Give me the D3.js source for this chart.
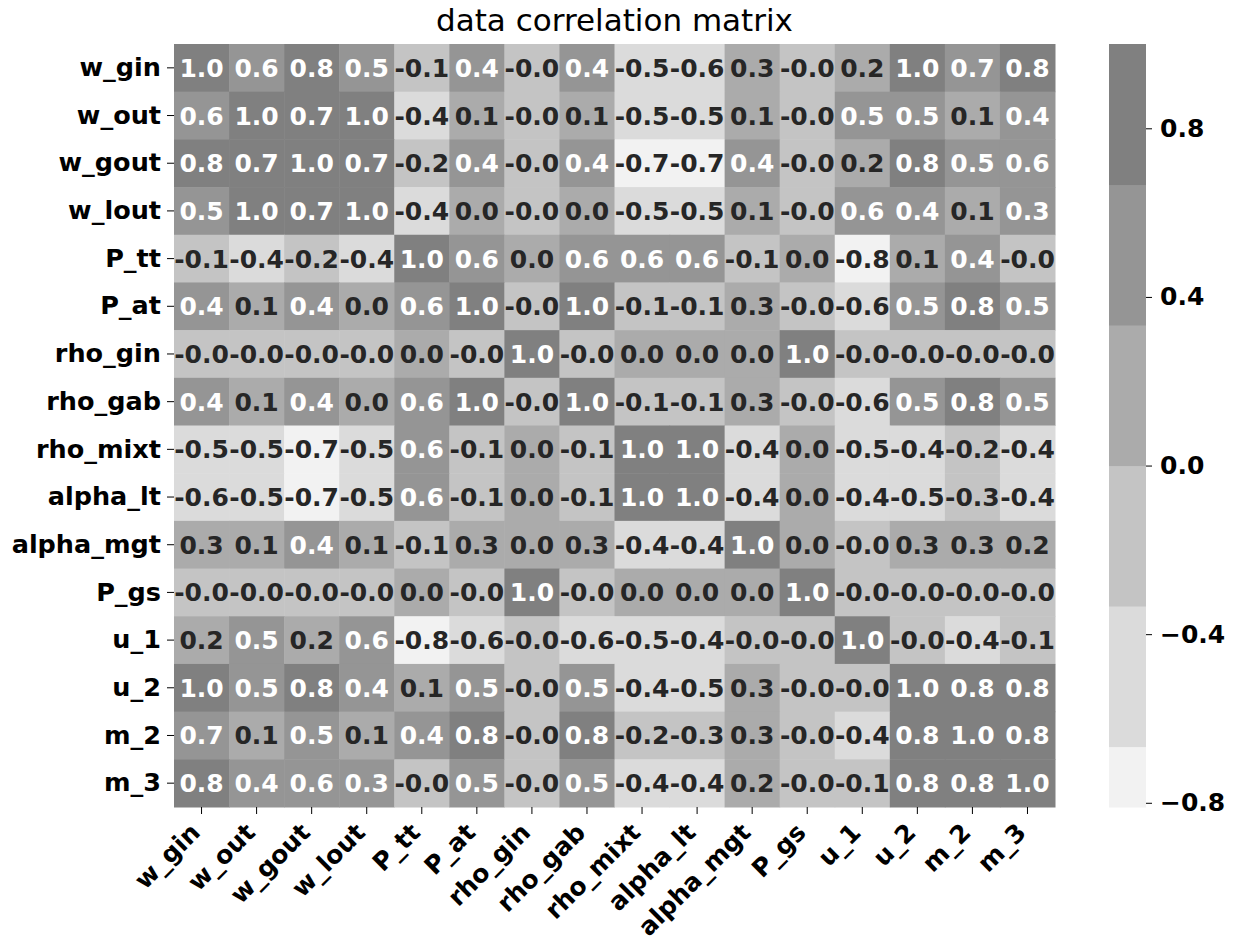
<!DOCTYPE html>
<html>
<head>
<meta charset="utf-8">
<script src="https://cdn.jsdelivr.net/npm/d3@7"></script>
<style>
  body { margin: 0; background: #fff; }
  text { font-family: 'DejaVu Sans', sans-serif; }
</style>
</head>
<body>
<script>
const labels = ['w_gin', 'w_out', 'w_gout', 'w_lout', 'P_tt', 'P_at', 'rho_gin', 'rho_gab',
  'rho_mixt', 'alpha_lt', 'alpha_mgt', 'P_gs', 'u_1', 'u_2', 'm_2', 'm_3']

// correlation rows, same order as labels (-0.01 shows as -0.0, 0.01 as 0.0)
const corr = [
  [1.0, 0.6, 0.8, 0.5, -0.1, 0.4, -0.01, 0.4, -0.5, -0.6, 0.3, -0.01, 0.2, 1.0, 0.66, 0.8],
  [0.6, 1.0, 0.7, 1.0, -0.4, 0.1, -0.01, 0.1, -0.5, -0.5, 0.1, -0.01, 0.5, 0.5, 0.1, 0.4],
  [0.8, 0.7, 1.0, 0.7, -0.2, 0.4, -0.01, 0.4, -0.7, -0.7, 0.4, -0.01, 0.2, 0.8, 0.5, 0.6],
  [0.5, 1.0, 0.7, 1.0, -0.4, 0.01, -0.01, 0.01, -0.5, -0.5, 0.1, -0.01, 0.6, 0.4, 0.1, 0.34],
  [-0.1, -0.4, -0.2, -0.4, 1.0, 0.6, 0.01, 0.6, 0.6, 0.6, -0.1, 0.01, -0.81, 0.1, 0.4, -0.01],
  [0.4, 0.1, 0.4, 0.01, 0.6, 1.0, -0.01, 1.0, -0.1, -0.1, 0.3, -0.01, -0.6, 0.5, 0.8, 0.5],
  [-0.01, -0.01, -0.01, -0.01, 0.01, -0.01, 1.0, -0.01, 0.01, 0.01, 0.01, 1.0, -0.01, -0.01, -0.01, -0.01],
  [0.4, 0.1, 0.4, 0.01, 0.6, 1.0, -0.01, 1.0, -0.1, -0.1, 0.3, -0.01, -0.6, 0.5, 0.8, 0.5],
  [-0.5, -0.5, -0.7, -0.5, 0.6, -0.1, 0.01, -0.1, 1.0, 1.0, -0.4, 0.01, -0.5, -0.4, -0.2, -0.4],
  [-0.6, -0.5, -0.7, -0.5, 0.6, -0.1, 0.01, -0.1, 1.0, 1.0, -0.4, 0.01, -0.4, -0.5, -0.3, -0.4],
  [0.3, 0.1, 0.4, 0.1, -0.1, 0.3, 0.01, 0.3, -0.4, -0.4, 1.0, 0.01, -0.01, 0.3, 0.3, 0.2],
  [-0.01, -0.01, -0.01, -0.01, 0.01, -0.01, 1.0, -0.01, 0.01, 0.01, 0.01, 1.0, -0.01, -0.01, -0.01, -0.01],
  [0.2, 0.5, 0.2, 0.6, -0.81, -0.6, -0.01, -0.6, -0.5, -0.4, -0.01, -0.01, 1.0, -0.01, -0.4, -0.1],
  [1.0, 0.5, 0.8, 0.4, 0.1, 0.5, -0.01, 0.5, -0.4, -0.5, 0.3, -0.01, -0.01, 1.0, 0.8, 0.8],
  [0.66, 0.1, 0.5, 0.1, 0.4, 0.8, -0.01, 0.8, -0.2, -0.3, 0.3, -0.01, -0.4, 0.8, 1.0, 0.8],
  [0.8, 0.4, 0.6, 0.34, -0.01, 0.5, -0.01, 0.5, -0.4, -0.4, 0.2, -0.01, -0.1, 0.8, 0.8, 1.0]
]

// discrete grey map centred on 0: six bins over [-1, 1]
const binEdges = [-2 / 3, -1 / 3, 0, 1 / 3, 2 / 3]
const binColors = ['#f2f2f2', '#dbdbdb', '#c4c4c4', '#ababab', '#959595', '#808080']
const cbarTicks = [-0.8, -0.4, 0.0, 0.4, 0.8]

const title = 'data correlation matrix'

const d3 = window.d3

const width = 1243
const height = 942
const plot = { left: 174, right: 1055, top: 44, bottom: 807 }
const cbar = { left: 1109, right: 1146 }

const svg = d3.select('body')
  .append('svg')
  .attr('width', width)
  .attr('height', height)

const xScale = d3.scaleBand().domain(labels).range([plot.left, plot.right])
const yScale = d3.scaleBand().domain(labels).range([plot.top, plot.bottom])
const color = d3.scaleThreshold().domain(binEdges).range(binColors)
const binOf = d3.scaleThreshold().domain(binEdges).range(d3.range(binColors.length))

const cells = []
corr.forEach((row, i) => {
  row.forEach((v, j) => cells.push({ row: labels[i], col: labels[j], v }))
})

svg.append('g')
  .selectAll('rect')
  .data(cells)
  .join('rect')
  .attr('x', (d) => xScale(d.col))
  .attr('y', (d) => yScale(d.row))
  .attr('width', xScale.bandwidth() + 0.5)
  .attr('height', yScale.bandwidth() + 0.5)
  .attr('fill', (d) => color(d.v))

svg.append('g')
  .selectAll('text')
  .data(cells)
  .join('text')
  .attr('x', (d) => xScale(d.col) + xScale.bandwidth() / 2)
  .attr('y', (d) => yScale(d.row) + yScale.bandwidth() / 2)
  .attr('dy', '0.36em')
  .attr('text-anchor', 'middle')
  .style('font-size', '25px')
  .style('font-weight', 'bold')
  .attr('fill', (d) => binOf(d.v) >= 4 ? '#ffffff' : '#262626')
  .text((d) => d.v.toFixed(1))

// row labels
const yAxis = svg.append('g')
  .attr('transform', `translate(${plot.left},0)`)
  .call(d3.axisLeft(yScale).tickSize(7).tickPadding(6))
yAxis.select('.domain').remove()
yAxis.selectAll('text')
  .style('font-size', '25.5px')
  .style('font-weight', 'bold')
  .attr('fill', '#000')

// column labels, rotated 45 degrees
const xAxis = svg.append('g')
  .attr('transform', `translate(0,${plot.bottom})`)
  .call(d3.axisBottom(xScale).tickSize(7))
xAxis.select('.domain').remove()
xAxis.selectAll('text')
  .attr('y', 0)
  .attr('dy', 0)
  .attr('text-anchor', 'end')
  .attr('transform', 'translate(0,27) rotate(-45)')
  .style('font-size', '25px')
  .style('font-weight', 'bold')
  .attr('fill', '#000')

svg.append('text')
  .attr('x', (plot.left + plot.right) / 2)
  .attr('y', 31)
  .attr('text-anchor', 'middle')
  .style('font-size', '31px')
  .attr('fill', '#000')
  .text(title)

// colour bar
const flat = corr.flat()
const cScale = d3.scaleLinear().domain(d3.extent(flat)).range([plot.bottom, plot.top])
const [vmin, vmax] = cScale.domain()
const edges = [vmin].concat(binEdges.filter((e) => e > vmin && e < vmax), [vmax])

svg.append('g')
  .selectAll('rect')
  .data(d3.pairs(edges))
  .join('rect')
  .attr('x', cbar.left)
  .attr('width', cbar.right - cbar.left)
  .attr('y', (d) => cScale(d[1]))
  .attr('height', (d) => cScale(d[0]) - cScale(d[1]) + 0.5)
  .attr('fill', (d) => color((d[0] + d[1]) / 2))

const cAxis = svg.append('g')
  .attr('transform', `translate(${cbar.right},0)`)
  .call(d3.axisRight(cScale).tickValues(cbarTicks).tickFormat(d3.format('.1f')).tickSize(6).tickPadding(8))
cAxis.select('.domain').remove()
cAxis.selectAll('text')
  .style('font-size', '25px')
  .style('font-weight', 'bold')
  .attr('fill', '#000')
</script>
</body>
</html>
